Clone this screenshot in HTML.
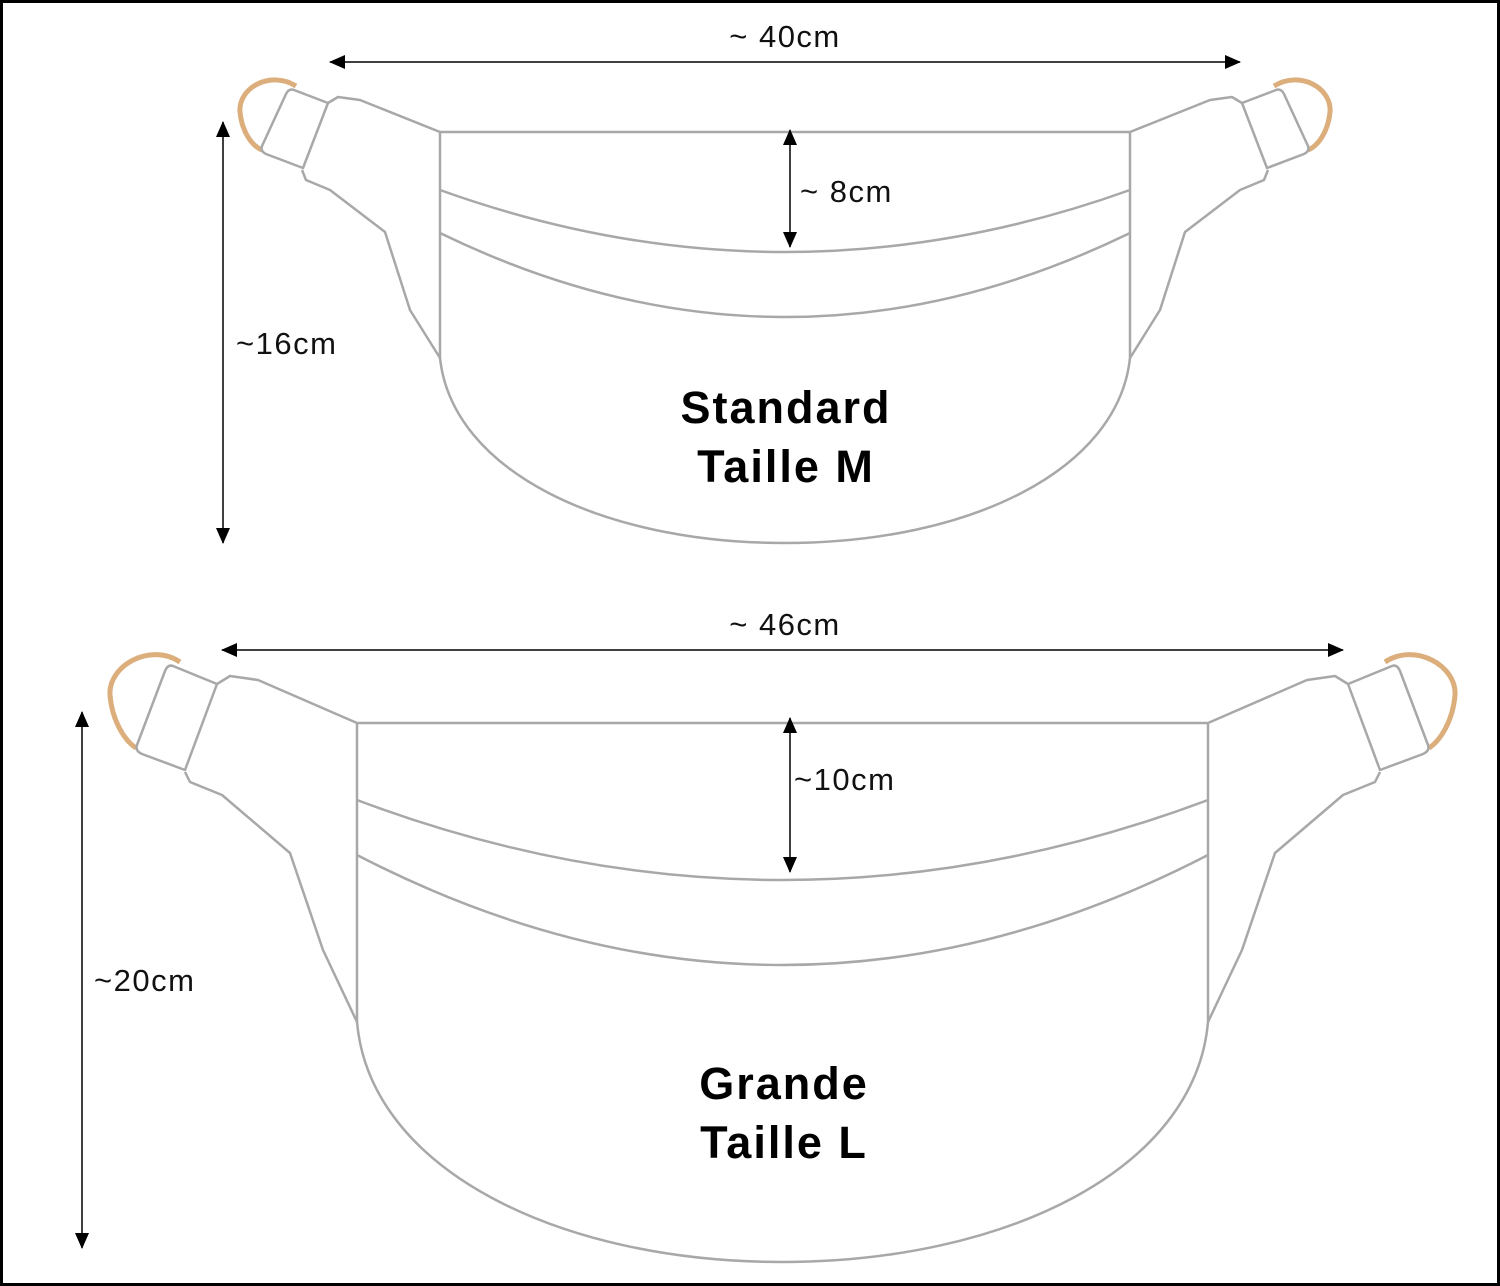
<!DOCTYPE html>
<html><head><meta charset="utf-8"><style>
html,body{margin:0;padding:0;background:#fff}
svg{display:block}
.s{fill:none;stroke:#a8a8a8;stroke-width:2.5;stroke-linejoin:round}
.r{fill:none;stroke:#dcae7c;stroke-width:5}
.t{font-family:"Liberation Sans",sans-serif;font-size:31px;fill:#111;letter-spacing:1.5px}
.b{font-family:"Liberation Sans",sans-serif;font-size:45px;font-weight:bold;fill:#000;letter-spacing:2px}
.a{stroke:#000;stroke-width:1.5}
</style></head><body>
<svg width="1500" height="1286" viewBox="0 0 1500 1286" xmlns="http://www.w3.org/2000/svg">
<rect x="1.5" y="1.5" width="1497" height="1283" fill="#fff" stroke="#000" stroke-width="3"/>
<defs>
<marker id="mk" markerWidth="16" markerHeight="14" refX="15" refY="7" orient="auto-start-reverse" markerUnits="userSpaceOnUse" viewBox="0 0 16 14">
<path d="M0,0 L16,7 L0,14 z" fill="#000"/></marker>
<g id="bagM">
<path class="r" d="M296,86 C270,70 238,88 240,112 C242,132 252,146 262,150"/>
<path class="s" d="M294,90 L328,103 L303,168 L266,154 Q260,151 262,146 L286,94 Q289,88 294,90 Z"/>
<path class="s" d="M328,103 L338,97 L360,100 L440,132 L1130,132 L1210,100 L1232,97 L1242,103"/>
<path class="s" d="M302,170 L306,180 L330,190 L385,232 L410,310 L440,358 L440,132"/>
<path class="s" d="M1268,170 L1264,180 L1240,190 L1185,232 L1160,310 L1130,358 L1130,132"/>
<path class="r" d="M1274,86 C1300,70 1332,88 1330,112 C1328,132 1318,146 1308,150"/>
<path class="s" d="M1276,90 L1242,103 L1267,168 L1304,154 Q1310,151 1308,146 L1284,94 Q1281,88 1276,90 Z"/>
<path class="s" d="M440,190 Q785,314 1130,190"/>
<path class="s" d="M440,233 Q785,401 1130,233"/>
<path class="s" d="M440,358 C452,470 600,543 785,543 C970,543 1118,470 1130,358"/>
</g>
</defs>
<use href="#bagM"/>
<path class="r" d="M180,662 C150,642 108,666 110,695 C112,720 124,740 136,748"/>
<path class="s" d="M173,666 L217,684 L185,770 L142,754 Q135,751 137,745 L165,671 Q168,664 173,666 Z"/>
<path class="s" d="M217,684 L230,676 L258,680 L357,723 L1208,723 L1307,680 L1335,676 L1348,684"/>
<path class="s" d="M185,772 L190,782 L222,795 L290,853 L323,950 L357,1022 L357,723"/>
<path class="s" d="M1380,772 L1375,782 L1343,795 L1275,853 L1242,950 L1208,1022 L1208,723"/>
<path class="r" d="M1385,662 C1415,642 1457,666 1455,695 C1453,720 1441,740 1429,748"/>
<path class="s" d="M1392,666 L1348,684 L1380,770 L1423,754 Q1430,751 1428,745 L1400,671 Q1397,664 1392,666 Z"/>
<path class="s" d="M357,800 Q782,960 1208,800"/>
<path class="s" d="M357,855 Q782,1075 1208,855"/>
<path class="s" d="M357,1022 C370,1170 560,1262 782,1262 C1005,1262 1195,1170 1208,1022"/>
<line class="a" x1="330" y1="62" x2="1240" y2="62" marker-start="url(#mk)" marker-end="url(#mk)"/>
<line class="a" x1="223" y1="122" x2="223" y2="543" marker-start="url(#mk)" marker-end="url(#mk)"/>
<line class="a" x1="790" y1="130" x2="790" y2="247" marker-start="url(#mk)" marker-end="url(#mk)"/>
<line class="a" x1="222" y1="650" x2="1343" y2="650" marker-start="url(#mk)" marker-end="url(#mk)"/>
<line class="a" x1="82" y1="712" x2="82" y2="1248" marker-start="url(#mk)" marker-end="url(#mk)"/>
<line class="a" x1="790" y1="718" x2="790" y2="872" marker-start="url(#mk)" marker-end="url(#mk)"/>
<text class="t" x="785" y="47" text-anchor="middle">~ 40cm</text>
<text class="t" x="800" y="202">~ 8cm</text>
<text class="t" x="236" y="354">~16cm</text>
<text class="t" x="785" y="635" text-anchor="middle">~ 46cm</text>
<text class="t" x="794" y="790">~10cm</text>
<text class="t" x="94" y="991">~20cm</text>
<text class="b" x="786" y="423" text-anchor="middle">Standard</text>
<text class="b" x="786" y="482" text-anchor="middle">Taille M</text>
<text class="b" x="784" y="1099" text-anchor="middle">Grande</text>
<text class="b" x="784" y="1158" text-anchor="middle">Taille L</text>
</svg>
</body></html>
